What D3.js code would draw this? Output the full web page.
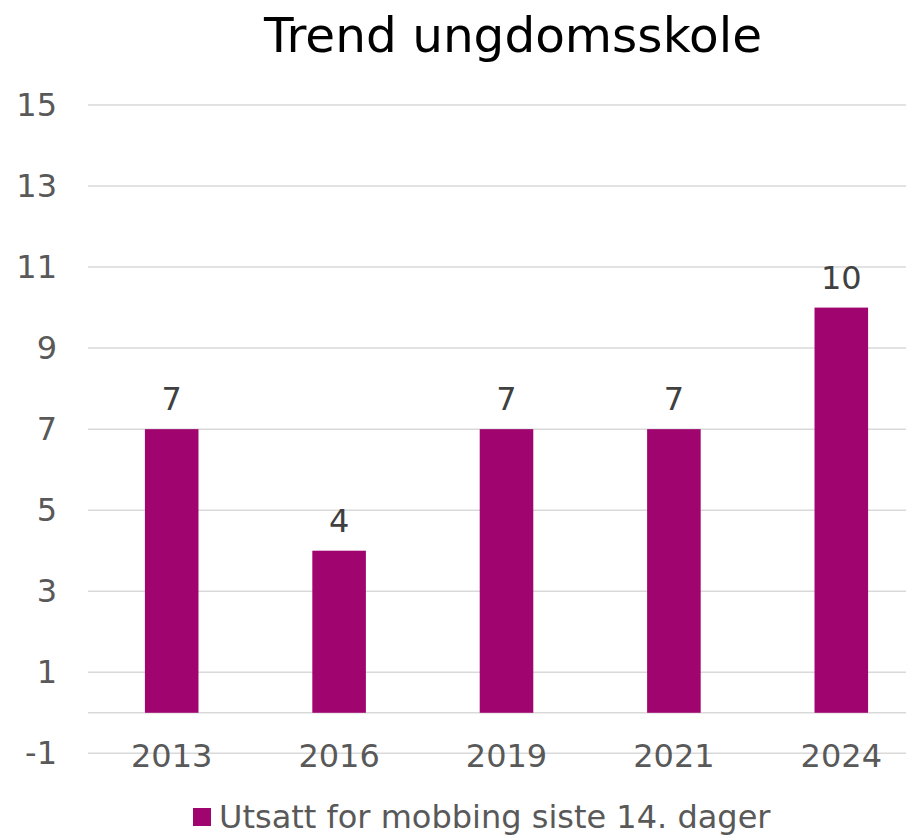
<!DOCTYPE html>
<html>
<head>
<meta charset="utf-8">
<script src="https://cdn.jsdelivr.net/npm/d3@7"></script>
<style>
  html, body { margin: 0; padding: 0; background: #fff; }
  svg { display: block; font-family: "DejaVu Sans", Verdana, sans-serif; }
</style>
</head>
<body>
<div id="chart"></div>
<script>
// data
const years  = ["2013", "2016", "2019", "2021", "2024"];
const values = [7, 4, 7, 7, 10];
const yTicks = [-1, 1, 3, 5, 7, 9, 11, 13, 15];
const seriesName = "Utsatt for mobbing siste 14. dager";
const title = "Trend ungdomsskole";

const W = 906, H = 835;
const BAR = "#a0046f";
const FS = 32;

const svg = d3.select("#chart").append("svg")
    .attr("width", W).attr("height", H);

// plot runs a bit past the right edge, like the source image
const x = d3.scaleBand().domain(years).range([88, 925]).paddingInner(0.68).paddingOuter(0.34);
const y = d3.scaleLinear().domain([-1, 15]).range([753.3, 105]);

// title
svg.append("text")
    .attr("x", 513).attr("y", 52)
    .attr("text-anchor", "middle")
    .attr("font-size", 48.5).attr("fill", "#000")
    .text(title);

// gridlines
svg.append("g").selectAll("line").data(yTicks.concat([0])).join("line")
    .attr("x1", 88).attr("x2", W)
    .attr("y1", d => y(d)).attr("y2", d => y(d))
    .attr("stroke", "#d9d9d9").attr("stroke-width", 1.5);

// y axis labels (plain hyphen for the minus, as in the source)
const yAxis = svg.append("g").attr("transform", "translate(57,0)")
    .call(d3.axisLeft(y).tickValues(yTicks).tickFormat(d => String(d)).tickSize(0).tickPadding(0));
yAxis.select(".domain").remove();
yAxis.selectAll("text").attr("font-size", FS).attr("fill", "#595959")
    .attr("font-family", "DejaVu Sans, Verdana, sans-serif");

// bars
svg.append("g").selectAll("rect").data(values).join("rect")
    .attr("x", (d, i) => x(years[i]))
    .attr("width", x.bandwidth())
    .attr("y", d => y(d))
    .attr("height", d => y(0) - y(d))
    .attr("fill", BAR);

// value labels
svg.append("g").selectAll("text").data(values).join("text")
    .attr("x", (d, i) => x(years[i]) + x.bandwidth() / 2)
    .attr("y", d => y(d) - 19)
    .attr("text-anchor", "middle")
    .attr("font-size", FS).attr("fill", "#404040")
    .text(d => d);

// x axis labels
const xAxis = svg.append("g").attr("transform", "translate(0,767)")
    .call(d3.axisBottom(x).tickSize(0).tickPadding(0));
xAxis.select(".domain").remove();
xAxis.selectAll("text").attr("font-size", FS).attr("fill", "#595959")
    .attr("dy", 0)
    .attr("font-family", "DejaVu Sans, Verdana, sans-serif");

// legend
const leg = svg.append("g");
leg.append("rect").attr("x", 193).attr("y", 808).attr("width", 18).attr("height", 18).attr("fill", BAR);
leg.append("text").attr("x", 219).attr("y", 828)
    .attr("font-size", FS).attr("fill", "#595959")
    .text(seriesName);
</script>
</body>
</html>
